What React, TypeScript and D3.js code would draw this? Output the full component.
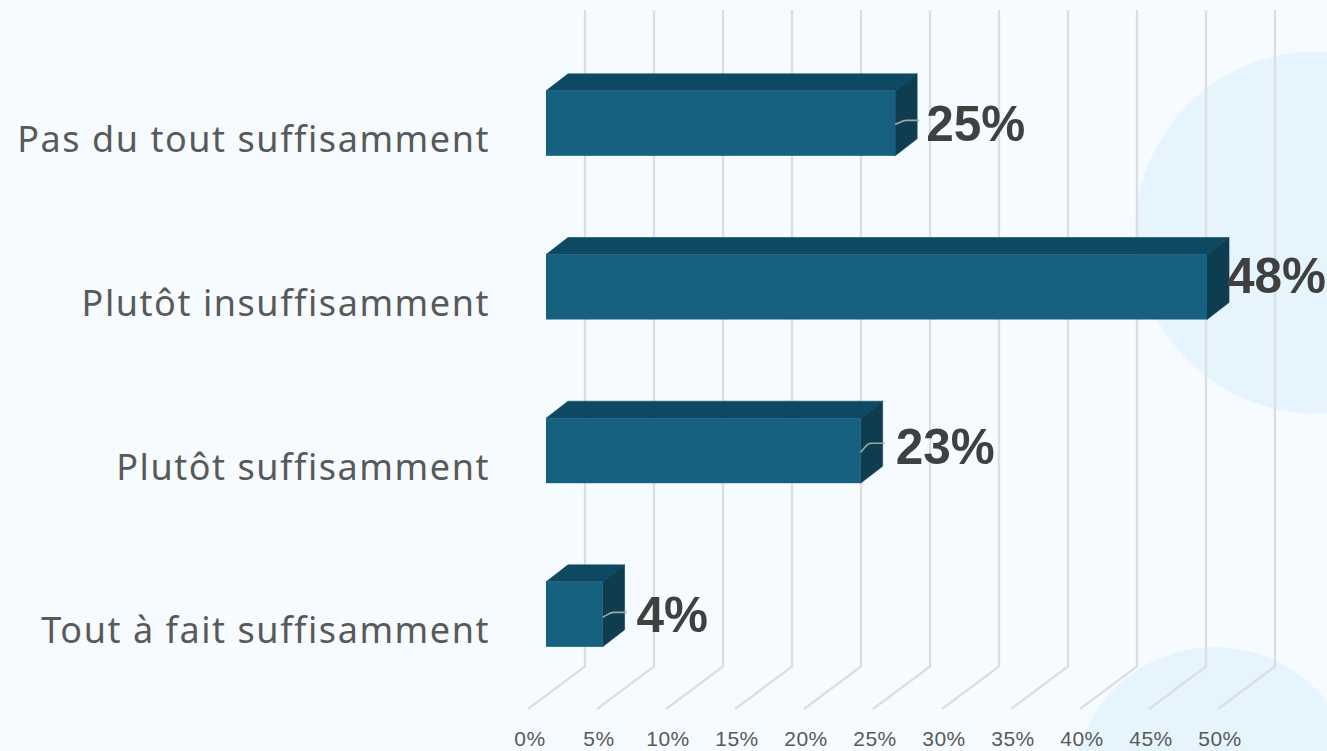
import React from "react";
import * as d3 from "d3";

const categories = ["Pas du tout suffisamment", "Plutôt insuffisamment", "Plutôt suffisamment", "Tout à fait suffisamment"];
const values = [25.3, 47.9, 22.8, 4.1];
const valueLabels = ["25%", "48%", "23%", "4%"];
const ticks = [0, 5, 10, 15, 20, 25, 30, 35, 40, 45, 50];

// Hand-placed data-label offsets relative to the bar's side face and centre
const labelDx = [9, -2, 13, 12];
const labelDy = [18, 6, 13, 18];
// Leader line end rise (absent on the second bar)
const leaderRise = [-3, null, -7.5, -2];
const leaderStart = [1, 0, 1.5, 3];

const W = 1327, H = 751;
const DX = 22, DY = 17;

export default function App() {
  const xFloor = d3.scaleLinear().domain([0, 50]).range([528, 1218]);
  const y = d3.scaleBand<string>().domain(categories).range([41.5, 696.2]);
  const barH = 65;
  const barStart = 546;
  const w = (v: number) => xFloor(v) - xFloor(0);
  const poly = (p: number[][]) => (d3.line()(p as [number, number][]) ?? "") + "Z";
  return (
    <svg width={W} height={H} viewBox={`0 0 ${W} ${H}`} style={{ position: "absolute", left: 0, top: 0, display: "block" }}>
      <defs>
        <filter id="soft" x="-5%" y="-5%" width="110%" height="110%">
          <feGaussianBlur stdDeviation="0.6" />
        </filter>
      </defs>
      <rect width={W} height={H} fill="#f5fbff" />
      <circle cx={1316} cy={232.5} r={181} fill="#e6f4fe" />
      <circle cx={1215} cy={789} r={142} fill="#e6f4fe" />
      <g filter="url(#soft)">
        {ticks.map((t) => {
          const x0 = xFloor(t);
          return (
            <path
              key={t}
              d={`M${x0},709L${x0 + 57},666.5L${x0 + 57},10`}
              fill="none"
              stroke="#dcdfe1"
              strokeWidth={2.4}
            />
          );
        })}
        {categories.map((c, i) => {
          const x0 = barStart;
          const x1 = barStart + w(values[i]);
          const y0 = y(c)! + (y.bandwidth() - barH) / 2;
          const y1 = y0 + barH;
          const my = (y0 + y1) / 2;
          const rise = leaderRise[i];
          return (
            <g key={c}>
              <path d={poly([[x0, y0], [x0 + DX, y0 - DY], [x1 + DX, y0 - DY], [x1, y0]])} fill="#114a63" stroke="#114a63" strokeWidth={0.6} />
              <path d={poly([[x1, y0], [x1 + DX, y0 - DY], [x1 + DX, y1 - DY], [x1, y1]])} fill="#0d3e50" stroke="#0d3e50" strokeWidth={0.6} />
              <rect x={x0} y={y0} width={x1 - x0} height={barH} fill="#166180" />
              {rise !== null && (
                <path
                  d={`M${x1},${my + leaderStart[i]}C${x1 + 6},${my + rise + 2} ${x1 + 7},${my + rise} ${x1 + 11},${my + rise}L${x1 + 24},${my + rise}`}
                  fill="none"
                  stroke="#a6a6a6"
                  strokeWidth={1.6}
                />
              )}
            </g>
          );
        })}
      </g>
      {categories.map((c, i) => {
        const x1 = barStart + w(values[i]);
        const my = y(c)! + y.bandwidth() / 2;
        return (
          <g key={c}>
            <text
              x={490}
              y={my + 29}
              textAnchor="end"
              fontFamily="'Noto Sans', sans-serif"
              fontSize={36}
              fill="#595959"
              style={{ letterSpacing: "1.55px" }}
            >
              {c}
            </text>
            <text
              x={x1 + DX + labelDx[i]}
              y={my + labelDy[i]}
              fontFamily="'Liberation Sans', Arial, sans-serif"
              fontWeight={700}
              fontSize={49.5}
              fill="#404040"
            >
              {valueLabels[i]}
            </text>
          </g>
        );
      })}
      {ticks.map((t) => (
        <text
          key={t}
          x={xFloor(t) + 2}
          y={746.4}
          textAnchor="middle"
          fontFamily="'Liberation Sans', Arial, sans-serif"
          fontSize={21}
          fill="#595959"
          style={{ letterSpacing: "0.5px" }}
        >
          {t}%
        </text>
      ))}
    </svg>
  );
}
